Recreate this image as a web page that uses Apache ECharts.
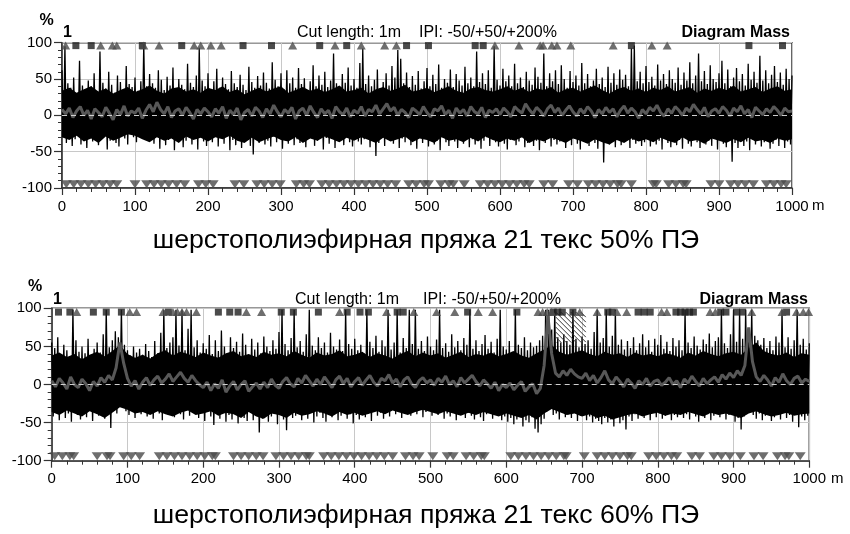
<!DOCTYPE html>
<html><head><meta charset="utf-8">
<script src="https://cdn.jsdelivr.net/npm/echarts@6/dist/echarts.min.js"></script>
<style>html,body{margin:0;padding:0;background:#fff}#c{width:850px;height:534px}</style>
</head><body><div id="c"></div>
<script>
// ---- data (read / estimated from the picture) ----
const STEP_M = 2;        // mass signal sampled every 2 m (peak / trough alternating)
const MEAN_STEP_M = 5;   // mean curve sampled every 5 m
const CORE_STEP_M = 10;  // dense core band sampled every 10 m
const xTicks = [0,100,200,300,400,500,600,700,800,900,1000];
const yTicks = [-100,-50,0,50,100];

const mass1 = [
62,-30,95,-38,44,-25,38,-42,52,-33,30,-28,75,-40,41,-22,35,-45,48,-31,
40,-36,58,-27,33,-41,88,-30,45,-24,37,-47,60,-35,42,-29,31,-38,55,-43,
46,-26,36,-32,68,-40,43,-23,39,-30,52,-37,34,-21,47,-28,98,-18,40,-25,
57,-33,44,-39,38,-27,62,-46,49,-30,35,-41,53,-34,41,-29,66,-48,37,-31,
50,-26,42,-44,36,-35,71,-28,45,-40,39,-32,55,-47,93,-30,48,-36,40,-42,
58,-29,34,-37,47,-25,64,-43,38,-31,52,-39,43,-27,36,-48,61,-34,44,-41,
39,-30,56,-45,42,-36,35,-28,67,-42,46,-54,38,-33,54,-38,41,-26,59,-40,
45,-35,37,-43,73,-29,49,-37,40,-31,58,-46,36,-30,62,-39,44,-28,52,-41,
38,-33,65,-38,43,-26,51,-44,35,-32,47,-29,69,-42,40,-35,55,-27,42,-47,
60,-31,39,-39,48,-28,85,-45,44,-34,36,-30,57,-41,45,-26,66,-37,41,-43,
50,-29,38,-36,72,-40,92,-33,43,-27,55,-44,40,-31,49,-56,63,-38,37,-30,
46,-42,58,-28,41,-35,68,-39,52,-30,90,-45,78,-32,44,-37,59,-27,39,-41,
54,-34,42,-46,61,-29,37,-38,47,-31,65,-43,40,-26,56,-40,43,-35,70,-48,
38,-30,50,-37,45,-42,63,-28,39,-36,57,-45,48,-31,41,-39,67,-27,44,-44,
52,-33,40,-40,88,-29,46,-46,58,-35,43,-30,62,-42,38,-28,95,-37,49,-43,
41,-31,64,-39,47,-47,55,-34,40,-27,71,-41,44,-36,52,-30,39,-44,60,-38,
48,-29,42,-42,66,-35,53,-48,45,-31,85,-38,40,-27,58,-43,47,-34,62,-40,
43,-36,69,-30,50,-45,38,-33,61,-41,46,-28,55,-39,41,-47,72,-32,44,-37,
57,-42,40,-31,48,-38,64,-46,43,-29,52,-65,39,-35,67,-40,45,-33,58,-44,
42,-30,63,-41,49,-36,56,-28,40,-45,92,-34,96,-39,47,-30,60,-42,44,-37,
68,-33,46,-43,53,-29,41,-40,70,-35,48,-47,57,-31,43,-38,62,-44,50,-28,
45,-41,66,-34,42,-46,59,-30,48,-39,73,-43,44,-32,55,-37,85,-45,47,-29,
61,-40,43,-35,69,-42,50,-28,46,-47,58,-33,75,-39,44,-44,63,-31,40,-64,
52,-38,65,-45,47,-30,57,-42,41,-36,71,-48,49,-33,60,-40,45,-29,82,-43,
48,-37,62,-31,44,-46,56,-39,68,-34,46,-42,59,-30,42,-45,64,-36,50,-40,
55];

const coreHi1 = [
34,38,31,36,40,33,37,30,35,39, 32,36,41,34,30,37,39,33,36,31,
38,35,40,32,36,29,34,38,33,37, 40,31,35,39,34,37,32,36,41,33,
35,38,30,36,39,34,37,42,33,35, 38,32,36,40,34,31,37,39,35,33,
36,40,34,38,32,37,35,39,31,36, 38,33,37,41,35,30,36,39,34,37,
32,38,35,40,33,36,39,31,37,34, 38,35,41,33,36,39,32,37,40,34,
36];
const coreLo1 = [
-30,-34,-28,-36,-32,-38,-29,-35,-31,-26, -28,-33,-37,-30,-35,-32,-38,-29,-34,-31,
-36,-30,-33,-28,-35,-38,-31,-37,-33,-29, -34,-36,-30,-38,-32,-35,-29,-33,-37,-31,
-35,-30,-34,-38,-31,-36,-33,-29,-37,-32, -34,-38,-30,-35,-33,-37,-31,-36,-29,-34,
-37,-32,-35,-30,-38,-33,-36,-31,-34,-38, -32,-35,-39,-33,-37,-40,-34,-38,-32,-36,
-33,-37,-31,-35,-38,-30,-36,-34,-39,-32, -35,-38,-33,-37,-31,-36,-34,-38,-32,-35,
-33];

const mean1 = [
8,2,10,-3,6,12,0,7,-5,9,4,-2,11,3,-6,8,1,13,-1,6,
3,10,-4,7,15,5,18,8,2,12,-3,6,9,0,11,4,-5,8,2,10,
5,-2,9,3,12,-4,7,1,10,-6,4,8,-1,11,6,-3,9,2,14,5,
-2,8,3,11,-5,6,10,0,13,4,-3,9,2,7,-4,12,5,1,10,-2,
7,3,12,-1,8,5,14,2,9,16,6,11,0,8,4,-3,10,6,1,12,
4,-2,9,6,13,1,7,-4,10,3,8,-1,12,5,2,11,-3,7,4,9,
1,10,5,-2,12,7,3,16,8,2,11,6,-1,9,14,4,10,0,7,13,
5,-1,9,3,12,6,-3,8,2,11,4,9,-2,7,13,3,10,5,-4,8,
2,11,6,14,4,-1,9,3,12,7,0,10,5,15,8,2,11,-2,6,9,
3,12,7,-1,10,5,13,2,8,-3,11,6,1,9,4,12,7,0,10,5,
6];

const mass2 = [
55,-42,48,-35,62,-47,40,-30,52,-44,45,-38,36,-49,98,-33,58,-40,43,-46,
50,-37,41,-43,60,-29,38,-48,47,-35,55,-41,42,-31,66,-45,98,-39,49,-57,
58,-32,70,-38,62,-25,98,-28,52,-35,45,-40,38,-33,50,-44,42,-30,47,-39,
39,-36,53,-42,44,-29,36,-45,57,-34,41,-38,68,-47,98,-31,48,-40,55,-35,
62,-43,98,-30,51,-39,98,-46,45,-33,73,-41,98,-37,49,-28,58,-44,42,-36,
54,-48,47,-35,65,-42,40,-53,58,-38,44,-45,71,-31,50,-49,38,-40,62,-46,
48,-39,56,-51,43,-36,67,-44,52,-48,39,-33,60,-47,46,-41,55,-63,41,-45,
63,-37,50,-49,44,-42,58,-35,47,-52,69,-40,98,-46,53,-60,45,-38,61,-44,
98,-41,49,-36,57,-47,43,-39,66,-45,98,-34,51,-50,45,-42,62,-37,48,-44,
55,-49,42,-38,68,-43,50,-35,46,-47,59,-41,44,-36,98,-45,53,-39,47,-51,
60,-40,45,-46,52,-34,41,-43,98,-38,56,-48,48,-33,64,-41,43,-37,58,-45,
50,-36,98,-42,46,-31,55,-39,98,-35,42,-44,61,-30,48,-38,98,-41,53,-34,
98,-39,47,-32,57,-43,44,-36,63,-29,50,-41,45,-35,59,-40,98,-33,48,-45,
54,-38,43,-42,66,-35,49,-47,57,-39,45,-33,61,-44,52,-37,98,-41,47,-46,
58,-36,44,-43,53,-48,65,-39,47,-35,56,-45,42,-40,60,-38,98,-47,50,-42,
46,-49,57,-44,43,-52,98,-46,52,-41,48,-55,62,-47,45,-50,55,-43,49,-58,
51,-63,58,-52,64,-45,98,-35,98,-28,72,-40,98,-38,62,-46,55,-37,66,-43,
57,-39,52,-44,98,-36,60,-48,49,-41,63,-35,53,-47,58,-42,47,-50,69,-45,
98,-48,55,-52,61,-44,98,-50,50,-46,64,-55,98,-43,52,-51,59,-47,46,-59,
57,-42,48,-48,62,-39,45,-45,54,-37,66,-44,49,-40,58,-47,43,-36,60,-43,
52,-38,65,-45,47,-41,56,-35,44,-47,61,-40,50,-43,58,-37,45,-44,98,-39,
55,-46,48,-37,63,-42,51,-49,46,-35,59,-44,53,-39,67,-47,49,-41,57,-36,
62,-43,98,-38,54,-46,48,-40,66,-35,98,-49,56,-44,98,-59,60,-42,98,-37,
72,-34,98,-40,64,-45,58,-38,52,-47,61,-41,48,-36,57,-48,45,-43,63,-39,
55,-46,98,-37,49,-44,62,-40,47,-49,58,-35,98,-56,52,-42,60,-47,46,-41,
54];

const coreHi2 = [
38,42,36,40,33,39,43,37,44,52, 40,35,39,34,41,45,38,43,40,36,
42,38,35,41,44,37,40,36,43,39, 41,37,44,39,35,42,38,40,45,37,
39,43,36,41,38,34,40,44,37,42, 38,41,35,39,43,36,40,38,42,37,
40,44,38,35,41,46,52,43,39,42, 45,40,37,43,39,41,36,42,38,40,
37,41,39,35,42,38,44,40,37,41, 43,39,48,55,44,40,38,42,36,41,
39];
const coreLo2 = [
-36,-40,-34,-38,-42,-35,-39,-44,-37,-30, -33,-38,-36,-40,-35,-39,-42,-37,-34,-40,
-38,-35,-41,-37,-39,-44,-36,-42,-45,-38, -40,-44,-37,-41,-39,-35,-38,-42,-36,-40,
-37,-41,-38,-35,-39,-34,-37,-40,-36,-33, -36,-39,-35,-38,-41,-37,-40,-36,-39,-42,
-38,-41,-44,-40,-46,-38,-32,-36,-40,-38, -42,-39,-44,-41,-46,-43,-40,-38,-42,-39,
-37,-41,-38,-40,-36,-39,-42,-37,-40,-38, -41,-44,-38,-35,-39,-42,-40,-37,-41,-39,
-38];

const mean2 = [
5,-3,8,2,-6,10,0,-4,7,1,-8,4,-2,9,3,12,6,22,55,28,
8,-2,5,-6,3,9,-1,6,11,2,7,14,4,10,16,8,3,12,5,0,
-4,3,-8,1,-5,6,-10,-2,4,-7,0,5,-9,-3,2,-6,3,-4,7,-1,
-5,4,9,1,-3,8,2,12,5,-2,7,0,10,3,-4,6,11,1,8,-3,
4,9,-1,6,12,3,-2,8,5,13,2,7,-3,6,10,1,-4,5,9,2,
6,-1,8,3,11,0,5,-3,9,2,7,12,4,-2,6,1,-5,3,-8,0,
-4,2,-7,-1,4,-9,-3,1,-12,-5,25,90,40,15,10,18,12,20,14,10,
8,15,5,12,2,9,18,6,1,10,4,-3,7,2,-5,5,0,8,-2,4,
6,-1,3,9,0,5,-4,7,2,11,4,-2,8,1,6,10,3,13,7,15,
9,18,12,25,75,30,10,4,12,6,-2,9,3,14,5,0,8,11,2,7,
4];

// event marks (position along yarn, m)
const thick1 = [19,40,110,164,248,287,353,390,472,502,566,577,780,941,987];
const neps1  = [5,53,69,75,112,133,181,190,204,218,316,374,410,442,458,593,626,655,659,671,678,697,755,808,829];
const thin1  = [6,16,26,36,46,56,66,75,100,116,126,136,146,157,168,187,197,207,237,249,267,277,288,299,
  321,331,339,356,366,376,386,396,406,416,426,436,446,457,475,485,496,502,519,530,536,551,
  573,583,593,603,613,623,633,640,660,672,694,706,721,731,741,751,761,766,780,810,814,
  831,841,851,855,889,900,916,926,936,947,965,975,985,992];

const thick2 = [9,24,55,72,92,154,220,235,246,303,319,352,390,407,418,456,464,549,614,662,668,674,688,734,740,774,782,790,824,830,836,842,847,883,890,904,912,970];
const neps2  = [33,103,112,147,160,166,172,178,191,257,277,380,442,478,508,532,563,582,642,648,654,660,697,720,746,759,805,812,869,876,924,964,983,992,999];
const thin2  = [4,14,24,29,60,73,77,95,105,116,142,152,162,172,182,192,202,212,216,240,250,260,270,279,
  296,306,316,326,336,340,359,369,379,389,399,409,419,429,439,450,467,477,485,503,522,530,
  547,557,567,571,606,616,626,636,646,656,666,676,679,703,720,730,740,750,760,765,
  788,798,808,818,825,845,855,874,884,895,909,927,939,958,968,973,988];

const hatch2 = [[665, 705, 55, 95]]; // [from m, to m, low %, high %]

// ---- build ----
const FONT = '"Liberation Sans", Arial, Helvetica, sans-serif';
const toXY = (arr, step) => arr.map((v, i) => [i * step, v]);
const atLevel = (arr, lvl) => arr.map(m => [m, lvl]);

const grids = [
  {left: 62, top: 42.7, width: 730, height: 145.3, show: true, borderColor: '#333', borderWidth: 1.5},
  {left: 51.7, top: 308.3, width: 757.6, height: 152.4, show: true, borderColor: '#333', borderWidth: 1.5}
];

function xAxis(gi) {
  return {
    type: 'value', gridIndex: gi, min: 0, max: 1000, interval: 100,
    axisLine: {onZero: false, lineStyle: {color: '#333', width: 1.5}},
    axisTick: {length: 7, lineStyle: {color: '#333', width: 1.2}},
    minorTick: {show: true, splitNumber: 5, length: 4, lineStyle: {color: '#333', width: 1}},
    axisLabel: {color: '#000', fontSize: 15, fontFamily: FONT, margin: 11,
      formatter: v => xTicks.indexOf(v) >= 0 ? String(v) : ''},
    splitLine: {show: true, lineStyle: {color: '#c8c8c8', width: 1}}
  };
}
function yAxis(gi) {
  return {
    type: 'value', gridIndex: gi, min: -100, max: 100, interval: 50,
    axisLine: {show: true, lineStyle: {color: '#333', width: 1.5}},
    axisTick: {show: true, length: 8, lineStyle: {color: '#333', width: 1.2}},
    minorTick: {show: true, splitNumber: 5, length: 4, lineStyle: {color: '#333', width: 1}},
    axisLabel: {color: '#000', fontSize: 15, fontFamily: FONT, margin: 10,
      formatter: v => yTicks.indexOf(v) >= 0 ? String(v) : ''},
    splitLine: {show: true, lineStyle: {color: '#c8c8c8', width: 1}}
  };
}

function renderHatch(params, api) {
  const tl = api.coord([api.value(0), api.value(3)]);
  const br = api.coord([api.value(1), api.value(2)]);
  const L = tl[0], T = tl[1], R = br[0], B = br[1];
  const children = [];
  for (let c = T - R; c <= B - L; c += 5) {
    const xs = Math.max(L, T - c), xe = Math.min(R, B - c);
    if (xe > xs) children.push({type: 'line', shape: {x1: xs, y1: xs + c, x2: xe, y2: xe + c},
      style: {stroke: '#333', lineWidth: 1}});
  }
  return {type: 'group', children};
}

function chartSeries(gi, mass, coreHi, coreLo, mean, thick, neps, thin, topLvl, botLvl) {
  const ax = {xAxisIndex: gi, yAxisIndex: gi};
  const band = d => Object.assign({type: 'line', data: toXY(d, CORE_STEP_M), symbol: 'none', z: 2, silent: true,
      lineStyle: {width: 0}, areaStyle: {color: '#000', opacity: 1, origin: 'auto'}}, ax);
  return [
    band(coreHi), band(coreLo),
    Object.assign({type: 'line', data: toXY(mass, STEP_M), symbol: 'none', z: 2,
      lineStyle: {color: '#000', width: 1.3}, silent: true}, ax),
    Object.assign({type: 'line', data: toXY(mean, MEAN_STEP_M), symbol: 'none', z: 3,
      lineStyle: {color: '#585858', width: 3}, silent: true}, ax),
    Object.assign({type: 'line', data: [], z: 4,
      markLine: {silent: true, symbol: 'none', label: {show: false},
        lineStyle: {color: '#d0d0d0', type: [5, 4], width: 1}, data: [{yAxis: 0}]}}, ax),
    Object.assign({type: 'scatter', data: atLevel(thick, topLvl), symbol: 'rect', symbolSize: [7, 7], z: 5,
      itemStyle: {color: '#1e1e1e'}, silent: true}, ax),
    Object.assign({type: 'scatter', data: atLevel(neps, topLvl), symbol: 'triangle', symbolSize: [9, 8], z: 5,
      itemStyle: {color: '#4a4a4a'}, silent: true}, ax),
    Object.assign({type: 'scatter', data: atLevel(thin, botLvl), symbol: 'triangle', symbolRotate: 180,
      symbolSize: [11, 8], z: 5, itemStyle: {color: '#4a4a4a'}, silent: true}, ax)
  ];
}

const series = [].concat(
  chartSeries(0, mass1, coreHi1, coreLo1, mean1, thick1, neps1, thin1, 96, -95),
  chartSeries(1, mass2, coreHi2, coreLo2, mean2, thick2, neps2, thin2, 95, -94),
  [{type: 'custom', xAxisIndex: 1, yAxisIndex: 1, data: hatch2, renderItem: renderHatch, z: 3, silent: true}]
);

function txt(x, y, text, size, weight, align) {
  return {type: 'text', x: x, y: y, silent: true,
    style: {text: text, fill: '#000', font: (weight || 'normal') + ' ' + size + 'px ' + FONT,
      align: align || 'left', verticalAlign: 'middle'}};
}

const graphic = [
  txt(46.5, 21, '%', 16, 'bold', 'center'),
  txt(63, 33, '1', 16, 'bold'),
  txt(297, 33, 'Cut length: 1m', 16),
  txt(419, 33, 'IPI: -50/+50/+200%', 16),
  txt(790, 33, 'Diagram Mass', 16, 'bold', 'right'),
  txt(812, 206, 'm', 15),
  txt(426, 241, 'шерстополиэфирная пряжа 21 текс 50% ПЭ', 26.7, 'normal', 'center'),
  txt(35, 287, '%', 16, 'bold', 'center'),
  txt(53, 300, '1', 16, 'bold'),
  txt(295, 300, 'Cut length: 1m', 16),
  txt(423, 300, 'IPI: -50/+50/+200%', 16),
  txt(808, 300, 'Diagram Mass', 16, 'bold', 'right'),
  txt(831, 479, 'm', 15),
  txt(426, 516, 'шерстополиэфирная пряжа 21 текс 60% ПЭ', 26.7, 'normal', 'center')
];

const chart = echarts.init(document.getElementById('c'), null, {renderer: 'canvas'});
chart.setOption({
  animation: false,
  backgroundColor: '#fff',
  grid: grids,
  xAxis: [xAxis(0), xAxis(1)],
  yAxis: [yAxis(0), yAxis(1)],
  series: series,
  graphic: graphic
});
</script></body></html>
